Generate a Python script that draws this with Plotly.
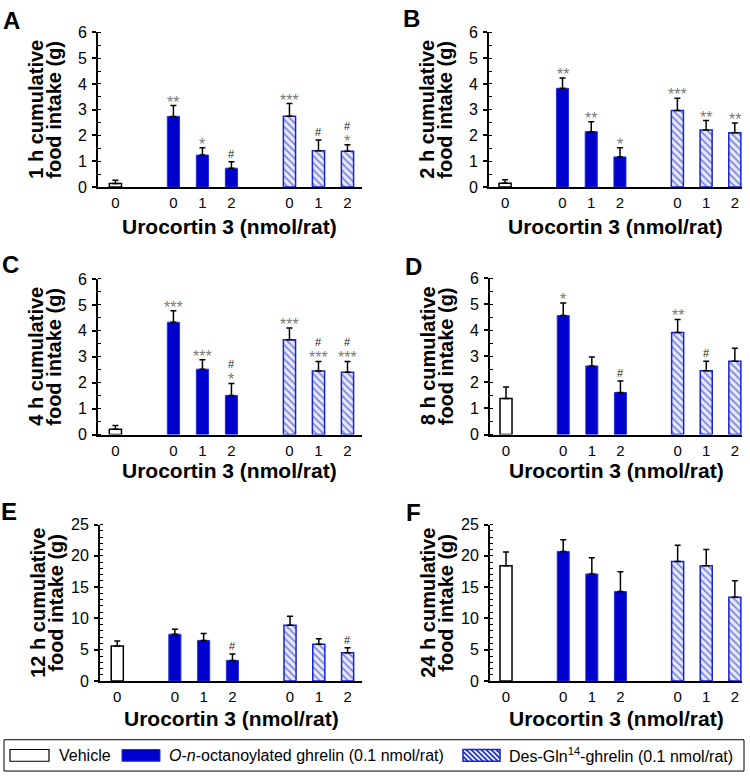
import plotly.graph_objects as go

W, H = 750, 782
FONT = "Liberation Sans, Arial, sans-serif"

# ---------------- data ----------------
panel_letters = ["A", "B", "C", "D", "E", "F"]
hours = ["1 h", "2 h", "4 h", "8 h", "12 h", "24 h"]
dose_ticks = ["0", "0", "1", "2", "0", "1", "2"]
x_title = "Urocortin 3 (nmol/rat)"

vehicle_mean = [0.14, 0.15, 0.20, 1.38, 5.6, 18.4]
vehicle_sem = [0.12, 0.13, 0.15, 0.44, 0.8, 2.2]

ghrelin_mean = [[2.74, 1.24, 0.73], [3.83, 2.15, 1.17], [4.33, 2.52, 1.51],
                [4.56, 2.63, 1.61], [7.48, 6.49, 3.30], [20.7, 17.1, 14.3]]
ghrelin_sem = [[0.42, 0.28, 0.25], [0.40, 0.38, 0.35], [0.44, 0.36, 0.46],
               [0.48, 0.34, 0.44], [0.78, 1.10, 1.00], [1.85, 2.60, 3.15]]

desgln_mean = [[2.75, 1.41, 1.39], [2.97, 2.21, 2.11], [3.66, 2.45, 2.40],
               [3.91, 2.44, 2.81], [8.90, 5.86, 4.50], [19.1, 18.4, 13.4]]
desgln_sem = [[0.49, 0.42, 0.25], [0.48, 0.37, 0.38], [0.45, 0.37, 0.42],
              [0.50, 0.37, 0.50], [1.45, 0.89, 0.83], [2.6, 2.6, 2.6]]

ghrelin_stars = [["**", "*", ""], ["**", "**", "*"], ["***", "***", "*"],
                 ["*", "", ""], ["", "", ""], ["", "", ""]]
desgln_stars = [["***", "", "*"], ["***", "**", "**"], ["***", "***", "***"],
                ["**", "", ""], ["", "", ""], ["", "", ""]]
ghrelin_hash = [[0, 0, 1], [0, 0, 0], [0, 0, 1], [0, 0, 1], [0, 0, 1], [0, 0, 0]]
desgln_hash = [[0, 1, 1], [0, 0, 0], [0, 1, 1], [0, 1, 0], [0, 0, 1], [0, 0, 0]]

y_max = [6, 6, 6, 6, 25, 25]
y_dtick = [1, 1, 1, 1, 5, 5]
y_minor = [0.5, 0.5, 0.5, 0.5, 1, 1]

legend_names = ["Vehicle",
                "<i>O</i>-<i>n</i>-octanoylated ghrelin (0.1 nmol/rat)",
                "Des-Gln<sup>14</sup>-ghrelin (0.1 nmol/rat)"]

# ---------------- styling / layout ----------------
BLUE = "#0000CC"
BLUE_EDGE = "#2233DD"
HATCH = "#1525C8"
BAR_W = 0.42

# pixel geometry of each panel: (x_left, x_right, y_top, y_bottom)
geom = [
    (98, 362, 25, 183), (489, 742, 25, 183),
    (98, 362, 277, 436), (490, 742, 276, 436),
    (100, 362, 528, 688), (490, 742, 528, 688),
]
x_ranges = [[-0.6, 8.5], [-0.56, 8.25]] * 3
letter_pos = [(11, 13), (411, 11), (10, 262), (413, 264), (9, 515), (413, 516)]
xtitle_y = [223, 223, 473, 473, 726, 726]

def px(x):
    return x / W

def py(y):
    return 1 - y / H

# positions: vehicle at slot 0, groups start at slots 2 and 6
veh_pos = [0]
grp1_pos = [2 + i for i in range(3)]
grp2_pos = [6 + i for i in range(3)]
all_pos = veh_pos + grp1_pos + grp2_pos

fig = go.Figure()
annotations = []

for k in range(6):
    xa = "x" if k == 0 else f"x{k+1}"
    ya = "y" if k == 0 else f"y{k+1}"
    err_style = dict(type="data", symmetric=False, color="black",
                     thickness=1.5, width=3)

    fig.add_trace(go.Bar(
        x=veh_pos, y=[vehicle_mean[k]], width=BAR_W, xaxis=xa, yaxis=ya,
        marker=dict(color="white", line=dict(color="black", width=1.5)),
        error_y=dict(array=[vehicle_sem[k]], arrayminus=[0], **err_style),
        showlegend=False, hoverinfo="skip"))
    fig.add_trace(go.Bar(
        x=grp1_pos, y=ghrelin_mean[k], width=BAR_W, xaxis=xa, yaxis=ya,
        marker=dict(color=BLUE, line=dict(color=BLUE_EDGE, width=1)),
        error_y=dict(array=ghrelin_sem[k], arrayminus=[0, 0, 0], **err_style),
        showlegend=False, hoverinfo="skip"))
    fig.add_trace(go.Bar(
        x=grp2_pos, y=desgln_mean[k], width=BAR_W, xaxis=xa, yaxis=ya,
        marker=dict(color="white", line=dict(color=HATCH, width=1.5),
                    pattern=dict(shape="\\", fgcolor=HATCH, bgcolor="#E8EAF8",
                                 size=5, solidity=0.35)),
        error_y=dict(array=desgln_sem[k], arrayminus=[0, 0, 0], **err_style),
        showlegend=False, hoverinfo="skip"))

    x0, x1, y0, y1 = geom[k]
    fig.update_layout(**{
        ("xaxis" if k == 0 else f"xaxis{k+1}"): dict(
            domain=[px(x0), px(x1)], range=x_ranges[k], anchor=ya,
            tickmode="array", tickvals=all_pos, ticktext=dose_ticks,
            ticks="", showline=True, linecolor="black", linewidth=2,
            showgrid=False, zeroline=False, ticklabelstandoff=1,
            tickfont=dict(family=FONT, size=15, color="black"), fixedrange=True),
        ("yaxis" if k == 0 else f"yaxis{k+1}"): dict(
            domain=[py(y1), py(y0)], range=[0, y_max[k]], anchor=xa,
            tickmode="linear", tick0=0, dtick=y_dtick[k],
            ticks="outside", ticklen=4, tickwidth=1.5, tickcolor="black",
            minor=dict(ticks="inside", dtick=y_minor[k], ticklen=3,
                       tickwidth=1, tickcolor="black"),
            showline=True, linecolor="black", linewidth=2,
            showgrid=False, zeroline=False, ticklabelstandoff=2,
            tickfont=dict(family=FONT, size=16, color="black"), fixedrange=True),
    })

    # significance marks
    for pos_list, means, sems, stars, hashes in (
        (grp1_pos, ghrelin_mean[k], ghrelin_sem[k], ghrelin_stars[k], ghrelin_hash[k]),
        (grp2_pos, desgln_mean[k], desgln_sem[k], desgln_stars[k], desgln_hash[k]),
    ):
        for i in range(3):
            top = means[i] + sems[i]
            if stars[i]:
                annotations.append(dict(
                    x=pos_list[i], y=top, xref=xa, yref=ya, text=stars[i],
                    showarrow=False, yanchor="bottom", yshift=-7,
                    font=dict(family=FONT, size=16, color="#7a7a7a")))
            if hashes[i]:
                annotations.append(dict(
                    x=pos_list[i], y=top, xref=xa, yref=ya, text="#",
                    showarrow=False, yanchor="bottom",
                    yshift=(11 if stars[i] else 0),
                    font=dict(family=FONT, size=11, color="#222222")))

    # y-axis title (two lines)
    yc = py((y0 + y1) / 2)
    for off, line in ((-62, f"{hours[k]} cumulative"), (-44, "food intake (g)")):
        annotations.append(dict(
            x=px(x0 + off), y=yc, xref="paper", yref="paper", text=f"<b>{line}</b>",
            textangle=-90, showarrow=False, xanchor="center", yanchor="middle",
            font=dict(family=FONT, size=20, color="black")))
    # x-axis title
    annotations.append(dict(
        x=px((x0 + x1) / 2), y=py(xtitle_y[k]), xref="paper", yref="paper",
        text=f"<b>{x_title}</b>", showarrow=False, xanchor="center", yanchor="middle",
        font=dict(family=FONT, size=21, color="black")))
    # panel letter
    lx, ly = letter_pos[k]
    annotations.append(dict(
        x=px(lx), y=py(ly), xref="paper", yref="paper", text=f"<b>{panel_letters[k]}</b>",
        showarrow=False, xanchor="center", yanchor="middle",
        font=dict(family=FONT, size=24, color="black")))

# ---------------- manual legend ----------------
shapes = []
shapes.append(dict(type="rect", xref="paper", yref="paper",
                   x0=px(4), x1=px(744), y0=py(780), y1=py(748),
                   line=dict(color="black", width=1), fillcolor="white"))
sw_top, sw_bot = 758, 770
swatches = [(10, 49), (122, 160), (463, 500)]
text_x = [57, 167, 507]
shapes.append(dict(type="rect", xref="paper", yref="paper",
                   x0=px(swatches[0][0]), x1=px(swatches[0][1]),
                   y0=py(sw_bot), y1=py(sw_top),
                   line=dict(color="black", width=1.2), fillcolor="white"))
shapes.append(dict(type="rect", xref="paper", yref="paper",
                   x0=px(swatches[1][0]), x1=px(swatches[1][1]),
                   y0=py(sw_bot), y1=py(sw_top),
                   line=dict(color=BLUE_EDGE, width=1), fillcolor=BLUE))
hx0, hx1 = swatches[2]
shapes.append(dict(type="rect", xref="paper", yref="paper",
                   x0=px(hx0), x1=px(hx1), y0=py(sw_bot), y1=py(sw_top),
                   line=dict(width=0), fillcolor="#E8EAF8"))
hgt = sw_bot - sw_top
s = hx0 - hgt
while s < hx1:
    ax0, ay0 = s, sw_top
    ax1, ay1 = s + hgt, sw_bot
    if ax0 < hx0:
        ay0 = sw_top + (hx0 - ax0)
        ax0 = hx0
    if ax1 > hx1:
        ay1 = sw_bot - (ax1 - hx1)
        ax1 = hx1
    if ax1 > ax0:
        shapes.append(dict(type="line", xref="paper", yref="paper",
                           x0=px(ax0), y0=py(ay0), x1=px(ax1), y1=py(ay1),
                           line=dict(color=HATCH, width=1.6)))
    s += 5
shapes.append(dict(type="rect", xref="paper", yref="paper",
                   x0=px(hx0), x1=px(hx1), y0=py(sw_bot), y1=py(sw_top),
                   line=dict(color=HATCH, width=1.5), fillcolor="rgba(0,0,0,0)"))
for tx, name in zip(text_x, legend_names):
    annotations.append(dict(
        x=px(tx), y=py((sw_top + sw_bot) / 2), xref="paper", yref="paper",
        text=name, showarrow=False, xanchor="left", yanchor="middle",
        font=dict(family=FONT, size=16, color="black")))

fig.update_layout(
    width=W, height=H, margin=dict(l=0, r=0, t=0, b=0),
    paper_bgcolor="white", plot_bgcolor="white",
    barmode="overlay", showlegend=False,
    annotations=annotations, shapes=shapes,
    font=dict(family=FONT, color="black"),
)

fig.write_html(
    "out.html",
    config={"displayModeBar": False},
    post_script="document.body.style.margin='0';document.body.style.overflow='hidden';",
)
